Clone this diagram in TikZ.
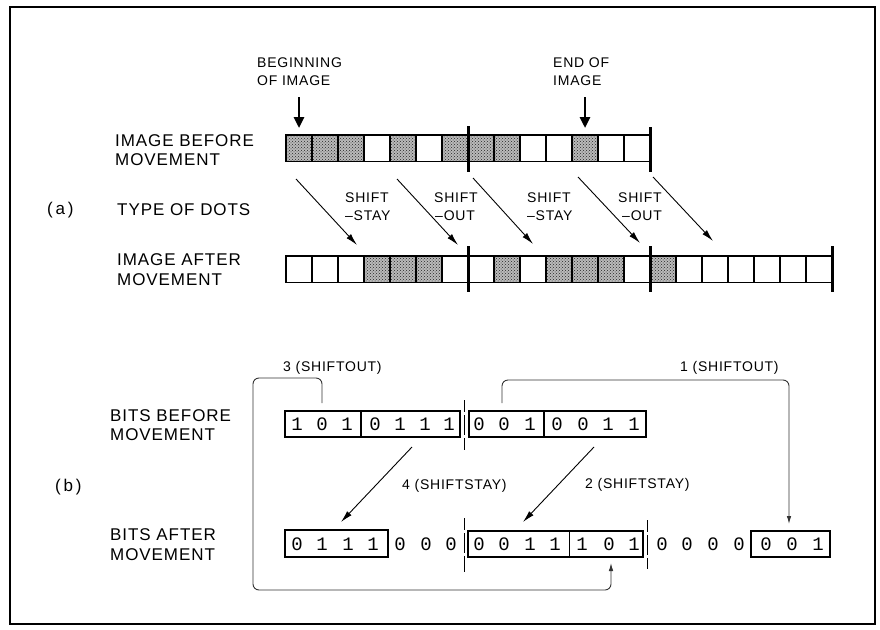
\documentclass[tikz,border=0pt]{standalone}
\usepackage{fontspec}
\setmainfont{Liberation Sans}
\newfontfamily\labfont[LetterSpace=5.5]{Liberation Sans}
\newfontfamily\digfont{Liberation Mono}
\usetikzlibrary{arrows.meta,patterns}
\tikzset{
  big/.style={font=\labfont\fontsize{17}{19.5}\selectfont, anchor=west, inner sep=0pt, align=left},
  small/.style={font=\labfont\fontsize{14}{18}\selectfont, anchor=west, inner sep=0pt, align=left},
  cellbase/.style={draw, line width=1.3pt, anchor=north west, minimum width=26pt, minimum height=26.5pt, inner sep=0pt, outer sep=0pt},
  cellS/.style={cellbase, preaction={fill=black!27}, pattern=crosshatch dots, pattern color=black!85},
  cellW/.style={cellbase, fill=white},
  bar/.style={line width=3pt},
  dig/.style={font=\digfont\fontsize{19}{19}\selectfont, inner sep=0pt},
  bitbox/.style={draw, line width=1.1pt, anchor=north west, minimum height=26pt, inner sep=0pt, outer sep=0pt},
  sepline/.style={line width=0.9pt, dash pattern=on 12pt off 3pt on 20pt off 3pt on 40pt},
  diag/.style={line width=0.9pt, -{Latex[length=12pt,width=6pt]}},
  bigarr/.style={line width=2.6pt, -{Triangle[length=11pt,width=10pt]}},
  brk/.style={line width=0.9pt, draw=black!80, rounded corners=6pt, -{Latex[length=8pt,width=4.5pt]}},
}
\begin{document}
\begin{tikzpicture}[x=1pt,y=-1pt]
\useasboundingbox (0,0) rectangle (880,629);
\fill[white] (0,0) rectangle (880,629);
\draw[line width=1.3pt] (10,7) rectangle (875,624);

% ---------- (a) ----------
\node[small] (tbeg) at (257,71.25) {BEGINNING\\OF IMAGE};
\node[small] (tend) at (553,72) {END OF\\IMAGE};
\node[big] (tib) at (115,150) {IMAGE BEFORE\\MOVEMENT};
\node[big] (ta) at (47,210) {(\,a\,)};
\node[big] (ttd) at (117,210) {TYPE OF DOTS};
\node[big] (tia) at (117,269.5) {IMAGE AFTER\\MOVEMENT};
\node[small] (s1) at (345,207) {SHIFT\\–STAY};
\node[small] (s2) at (434,207) {SHIFT\\\hspace*{1pt}–OUT};
\node[small] (s3) at (527,207) {SHIFT\\–STAY};
\node[small] (s4) at (618,207) {SHIFT\\\hspace*{4pt}–OUT};

\foreach \s [count=\i] in {1,1,1,0,1,0,1,1,1,0,0,1,0,0}{
  \ifnum\s=1 \node[cellS] (bc\i) at ({286+26*(\i-1)},135) {};
  \else \node[cellW] (bc\i) at ({286+26*(\i-1)},135) {}; \fi
}
\foreach \s [count=\i] in {0,0,0,1,1,1,0,0,1,0,1,1,1,0,1,0,0,0,0,0,0}{
  \ifnum\s=1 \node[cellS] (ac\i) at ({286+26*(\i-1)},256) {};
  \else \node[cellW] (ac\i) at ({286+26*(\i-1)},256) {}; \fi
}
\draw[bar] (468,126) -- (468,172);
\draw[bar] (650,127) -- (650,172);
\draw[bar] (468,246) -- (468,292);
\draw[bar] (650,246) -- (650,292);
\draw[bar] (832,246) -- (832,292);

\coordinate (ab) at (299,97);
\coordinate (ae) at (585,97);
\draw[bigarr, shorten >=7pt] (ab) -- (bc1.north);
\draw[bigarr, shorten >=7pt] (ae) -- (bc12.north);

\coordinate (p1) at (296,179); \coordinate (q1) at (357,245);
\coordinate (p2) at (397,179); \coordinate (q2) at (458,245);
\coordinate (p3) at (473,178); \coordinate (q3) at (533,244);
\coordinate (p4) at (578,177); \coordinate (q4) at (640,243);
\coordinate (p5) at (653,177); \coordinate (q5) at (713,241);
\foreach \k in {1,...,5} \draw[diag] (p\k) -- (q\k);

% ---------- (b) ----------
\node[big] (tbb) at (110,425) {BITS BEFORE\\MOVEMENT};
\node[big] (tb) at (55,487) {(\,b\,)};
\node[big] (tba) at (110,544.5) {BITS AFTER\\MOVEMENT};
\node[small] (t3) at (283,367.5) {3 (SHIFTOUT)};
\node[small] (t1) at (680,367.5) {1 (SHIFTOUT)};
\node[small] (t4) at (402,486) {4 (SHIFTSTAY)};
\node[small] (t2) at (585,485) {2 (SHIFTSTAY)};

\node[bitbox, minimum width=76pt] (bb1) at (285,411) {};
\node[bitbox, minimum width=99pt] (bb2) at (361,411) {};
\node[bitbox, minimum width=75pt] (bb3) at (469,411) {};
\node[bitbox, minimum width=102pt] (bb4) at (544,411) {};
\node[bitbox, minimum width=103pt, minimum height=27pt, line width=1.5pt] (ba1) at (285,530) {};
\node[bitbox, minimum width=101.5pt] (ba2) at (468,531) {};
\node[bitbox, minimum width=73.5pt] (ba3) at (569.5,531) {};
\node[bitbox, minimum width=79pt, line width=1.6pt] (ba4) at (751,531) {};

\foreach \x/\d [count=\i] in {297/1,322/0,347/1,375/0,400/1,425/1,449/1,479/0,504/0,530/1,557/0,583/0,608/1,634/1}
  \node[dig] (bd\i) at (\x,424) {\d};
\foreach \x/\d [count=\i] in {297/0,322/1,348/1,373/1,400/0,426/0,451/0,479/0,504/0,530/1,555/1,582/1,609/0,634/1,662/0,687/0,713/0,739/0,766/0,792/0,818/1}
  \node[dig] (ad\i) at (\x,544) {\d};

\draw[sepline] (464.5,400) -- (464.5,450);
\draw[sepline] (464.5,518) -- (464.5,572);
\draw[sepline] (647.5,520) -- (647.5,569);

\coordinate (u1) at (412,447); \coordinate (v1) at (341,522);
\coordinate (u2) at (594,447); \coordinate (v2) at (523,522);
\draw[diag] (u1) -- (v1);
\draw[diag] (u2) -- (v2);

\coordinate (r3) at (322,403);
\coordinate (e3) at (611,563);
\draw[brk] (r3) -- (322,378) -- (253,378) -- (253,590) -- (611,590) -- (e3);
\coordinate (r1) at (502,403);
\coordinate (e1) at (789,524);
\draw[brk] (r1) -- (502,380) -- (789,380) -- (e1);
\end{tikzpicture}
\end{document}
